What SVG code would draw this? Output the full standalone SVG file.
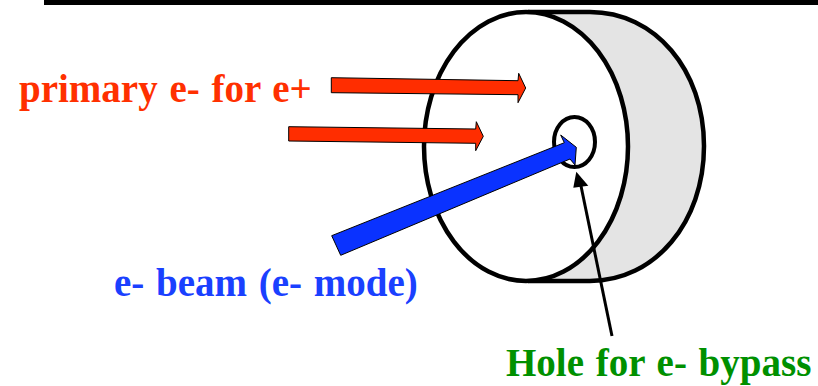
<svg xmlns="http://www.w3.org/2000/svg" width="818" height="386" viewBox="0 0 818 386">
<style>
text{font-family:"Liberation Serif",serif;font-weight:bold;font-size:39px;word-spacing:2px}
.o{fill:none;stroke:#000;stroke-width:4.5}
.a{stroke:#000;stroke-width:1}
</style>
<rect width="818" height="386" fill="#fff"/>
<rect x="44" y="0" width="774" height="5" fill="#000"/>
<g id="target">
<path d="M528 12H590C655 12 704 70 704 146C704 222 655 281 590 281H528Z" fill="#e4e4e4"/>
<path class="o" d="M528 12H590C655 12 704 70 704 146C704 222 655 281 590 281H528"/>
<ellipse cx="526" cy="146.500" rx="102" ry="134.500" class="o" style="fill:#fff"/>
</g>
<g id="hole"><ellipse cx="574.500" cy="142" rx="20.500" ry="25" class="o" style="stroke-width:4"/></g>
<g id="connectors">
<polygon class="a" fill="#ff2d00" points="331.300,77.700 518,80.700 518.700,73.300 525.700,88 518,102.700 518,94.700 331.300,92.700"/>
<polygon class="a" fill="#ff2d00" points="288.700,126.700 475.700,129 476.300,121.700 483.300,136.300 475.700,150.700 475.700,143.300 288.700,141"/>
<polygon class="a" fill="#0a32ff" points="331.700,235.700 564.300,142.700 560.700,135 576.300,147.300 575,165 570,159 340.700,255.300"/>
<path d="M612 336L581 186" stroke="#000" stroke-width="3" fill="none"/>
<polygon points="576.300,171.700 573.300,187.700 588.300,185.700"/>
</g>
<g id="label-primary"><text x="19" y="102" fill="#ff3000">primary e- for e+</text></g>
<g id="label-beam"><text x="114" y="296" fill="#1a40ff">e- beam (e- mode)</text></g>
<g id="label-hole"><text x="506" y="376" fill="#009000">Hole for e- bypass</text></g>
</svg>
